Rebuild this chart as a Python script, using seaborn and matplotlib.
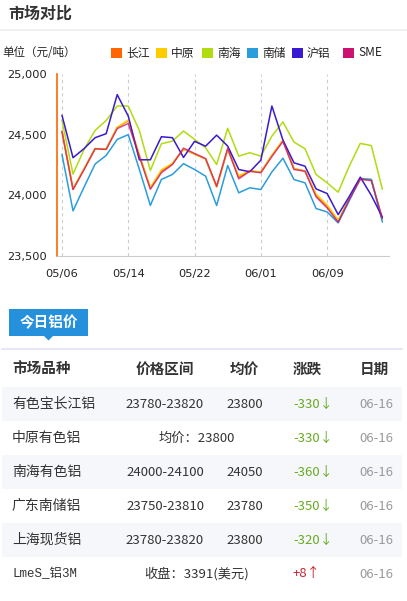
import numpy as np
import pandas as pd
import matplotlib
matplotlib.use("Agg")
import matplotlib.pyplot as plt
from matplotlib.patches import Rectangle, Polygon
import seaborn as sns

# chart data (元/吨)
dates = ["05/06", "05/07", "05/08", "05/09", "05/10", "05/13", "05/14",
         "05/15", "05/16", "05/17", "05/20", "05/21", "05/22",
         "05/23", "05/24", "05/27", "05/28", "05/31", "06/01",
         "06/03", "06/04", "06/05", "06/06", "06/07", "06/09",
         "06/10", "06/11", "06/12", "06/13", "06/16"]
changjiang = [24530, 24050, 24215, 24385, 24380, 24560, 24615, 24330, 24060, 24200,
              24260, 24380, 24340, 24300, 24070, 24380, 24150, 24200, 24190, 24330,
              24450, 24220, 24200, 24000, 23910, 23790, 23970, 24130, 24130, 23800]
zhongyuan = [24530, 24055, 24220, 24385, 24380, 24560, 24620, 24335, 24065, 24210,
             24265, 24380, 24340, 24300, 24070, 24380, 24160, 24205, 24190, 24330,
             24455, 24220, 24200, 24010, 23920, 23795, 23970, 24130, 24130, 23800]
nanhai = [24620, 24175, 24378, 24535, 24617, 24736, 24736, 24535, 24205, 24425,
          24447, 24530, 24461, 24392, 24254, 24552, 24323, 24351, 24323, 24488,
          24605, 24439, 24384, 24172, 24103, 24026, 24240, 24428, 24410, 24050]
nanchu = [24337, 23872, 24068, 24258, 24329, 24461, 24500, 24215, 23917, 24131,
          24172, 24261, 24213, 24158, 23916, 24246, 24021, 24062, 24048, 24193,
          24306, 24130, 24103, 23891, 23863, 23773, 23955, 24140, 24130, 23780]
hulv = [24660, 24310, 24385, 24475, 24508, 24830, 24653, 24293, 24293, 24483,
        24475, 24312, 24445, 24405, 24496, 24406, 24213, 24194, 24290, 24736,
        24455, 24268, 24240, 24053, 24015, 23841, 23990, 24150, 24000, 23820]
sme = [24525, 24048, 24213, 24384, 24378, 24550, 24592, 24320, 24050, 24186,
       24254, 24389, 24345, 24303, 24075, 24387, 24136, 24199, 24186, 24320,
       24445, 24213, 24199, 23987, 23896, 23778, 23965, 24136, 24120, 23810]

series_names = ["长江", "中原", "南海", "南储", "沪铝", "SME"]
series_colors = ["#ff6600", "#ffcc00", "#b0dc10", "#2a9ddc", "#3a1ad0", "#cc1170"]
tick_idx = [0, 6, 12, 18, 24]
y_ticks = [23500, 24000, 24500, 25000]

# table data
row_names = ["有色宝长江铝", "中原有色铝", "南海有色铝", "广东南储铝", "上海现货铝", "LmeS_铝3M"]
price_ranges = ["23780-23820", "", "24000-24100", "23750-23810", "23780-23820", ""]
avg_prices = ["23800", "", "24050", "23780", "23800", ""]
merged_text = ["", "均价：23800", "", "", "", "收盘：3391(美元)"]
changes = [-330, -330, -360, -350, -320, 8]
row_dates = ["06-16"] * 6
headers = ["市场品种", "价格区间", "均价", "涨跌", "日期"]

sns.set_style("white")
plt.rcParams["font.family"] = ["Noto Sans CJK SC", "DejaVu Sans"]

W, H = 407, 601
fig = plt.figure(figsize=(W / 100, H / 100), dpi=100)

# pixel overlay for title, legend and table
ov = fig.add_axes([0, 0, 1, 1])
ov.set_xlim(0, W)
ov.set_ylim(H, 0)
ov.axis("off")

ov.text(8, 14, "市场对比", fontsize=11.5, weight="bold", color="#333333", va="center")
ov.plot([0, W], [30, 30], color="#ececec", lw=1.2)
ov.text(2, 52, "单位（元/吨）", fontsize=8.3, color="#222222", va="center")

sq_x = [111, 156, 202, 247, 292, 343]
for name, col, x in zip(series_names, series_colors, sq_x):
    ov.add_patch(Rectangle((x, 47.5), 10.5, 10.5, color=col, lw=0))
    ov.text(x + 15, 53, name, fontsize=8.5, color="#222222", va="center")

# chart
ax = fig.add_axes([57 / W, 1 - 256 / H, (389 - 57) / W, (256 - 74) / H])
ax.set_facecolor("none")
n = len(dates)
df = pd.DataFrame({
    "idx": np.tile(np.arange(n), len(series_names)),
    "price": np.concatenate([changjiang, zhongyuan, nanhai, nanchu, hulv, sme]),
    "market": np.repeat(series_names, n),
})
sns.lineplot(data=df, x="idx", y="price", hue="market", hue_order=series_names,
             palette=dict(zip(series_names, series_colors)), linewidth=1.1,
             legend=False, ax=ax)
for line, a in zip(ax.get_lines(), [1, 1, 1, 1, 1, 0.75]):
    line.set_alpha(a)

ax.set_xlim(-0.45, n - 0.4)
ax.set_ylim(23500, 25000)
ax.set_xticks(tick_idx)
ax.set_xticklabels([dates[i] for i in tick_idx], family="DejaVu Sans", fontsize=8.2, color="#222222")
ax.set_yticks(y_ticks)
ax.set_yticklabels([f"{v:,}" for v in y_ticks], family="DejaVu Sans", fontsize=8.2, color="#222222")
ax.set_xlabel("")
ax.set_ylabel("")
for i in tick_idx:
    ax.axvline(i, color="#cccccc", lw=0.8, ls=(0, (3, 3)), zorder=0)
sns.despine(ax=ax)
ax.spines["left"].set_color("#ff6600")
ax.spines["left"].set_linewidth(1.2)
ax.spines["bottom"].set_color("#cccccc")
ax.tick_params(axis="y", colors="#ff6600", length=4, width=1, pad=3, labelcolor="#222222")
ax.tick_params(axis="x", colors="#cccccc", length=4, width=1, pad=5, labelcolor="#222222")

# today's price tab
ov.add_patch(Rectangle((9, 309), 79, 27, color="#2590dc", lw=0))
ov.add_patch(Polygon([(44, 336), (53, 336), (48.5, 340.5)], color="#2590dc", lw=0))
ov.text(48.5, 322, "今日铝价", fontsize=10.5, weight="bold", color="white", ha="center", va="center")
ov.plot([2, 402], [348.5, 348.5], color="#e6e6f4", lw=1.5)

col_x = [12, 165, 244, 307, 374]
for k, h in enumerate(headers):
    ov.text(col_x[k], 369, h, fontsize=10.5, weight="bold", color="#333333",
            ha="left" if k == 0 else "center", va="center")

for r in range(len(row_names)):
    yc = 404 + 34 * r
    if r % 2 == 0:
        ov.add_patch(Rectangle((2, yc - 17), 400, 34, color="#f6f7fa", lw=0))
    if row_names[r].startswith("Lme"):
        ov.text(12, yc, row_names[r], fontsize=9, color="#333333", va="center",
                family=["Liberation Mono", "Noto Sans CJK SC"])
    else:
        ov.text(12, yc, row_names[r], fontsize=10, color="#333333", va="center")
    if merged_text[r]:
        ov.text(197, yc, merged_text[r], fontsize=9.5, color="#333333", ha="center", va="center")
    else:
        ov.text(165, yc, price_ranges[r], fontsize=9.5, color="#333333", ha="center", va="center")
        ov.text(245, yc, avg_prices[r], fontsize=9.5, color="#333333", ha="center", va="center")
    c = changes[r]
    if c < 0:
        ov.text(293, yc, f"{c}↓", fontsize=9.5, color="#66aa22", va="center")
    else:
        ov.text(293, yc, f"+{c}↑", fontsize=9.5, color="#cc2233", va="center")
    ov.text(376, yc, row_dates[r], fontsize=9.5, color="#999999", ha="center", va="center")

fig.savefig("out.png", dpi=100)
